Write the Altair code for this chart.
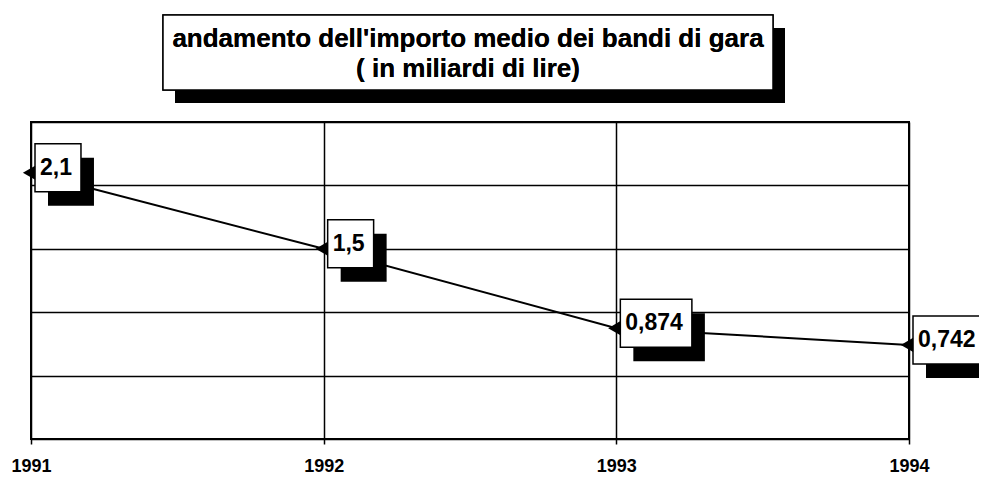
import altair as alt
import pandas as pd

years = [1991, 1992, 1993, 1994]
values = [2.1, 1.5, 0.874, 0.742]
labels = ["2,1", "1,5", "0,874", "0,742"]
title_lines = ["andamento dell'importo medio dei bandi di gara", "( in miliardi di lire)"]
y_grid = [0, 0.5, 1.0, 1.5, 2.0, 2.5]

df = pd.DataFrame({"year": years, "value": values, "label": labels})

W, H = 878, 317
FONT = "Liberation Sans"
LBL_FS = 23

xs = alt.Scale(domain=[1991, 1994], nice=False, zero=False)
ys = alt.Scale(domain=[0, 2.5], nice=False, zero=True)

x_axis = alt.Axis(values=years, format="d", title=None, labelFont=FONT, labelFontWeight="bold",
                  labelFontSize=18, labelColor="black", labelPadding=13, tickSize=5,
                  labelFlush=False, labelOverlap=False,
                  tickColor="black", tickWidth=1.5, domain=False, grid=True, gridColor="black",
                  gridWidth=1.5, gridOpacity=1)
y_axis = alt.Axis(values=y_grid, labels=False, ticks=False, domain=False, title=None, grid=True,
                  gridColor="black", gridWidth=1.5, gridOpacity=1)

base = alt.Chart(df)

line = base.mark_line(color="black", strokeWidth=2).encode(
    x=alt.X("year:Q", scale=xs, axis=x_axis),
    y=alt.Y("value:Q", scale=ys, axis=y_axis),
)

markers = base.mark_point(shape="triangle-left", filled=True, color="black", size=200, opacity=1,
                          xOffset=-2).encode(
    x=alt.X("year:Q", scale=xs), y=alt.Y("value:Q", scale=ys))

def text_width(s):
    w = 0
    for ch in s:
        w += 0.278 if ch in ",." else 0.556
    return w * LBL_FS

layers = [line]
for i, lab in enumerate(labels):
    w = text_width(lab) + 14
    sub = base.transform_filter(alt.datum.label == lab)
    enc = dict(x=alt.X("year:Q", scale=xs), x2="year:Q",
               y=alt.Y("value:Q", scale=ys), y2="value:Q")
    shadow = sub.mark_rect(color="black", xOffset=4 + 13, x2Offset=4 + 13 + w,
                           yOffset=-29 + 14, y2Offset=19 + 14).encode(**enc)
    box = sub.mark_rect(fill="white", stroke="black", strokeWidth=1.5, xOffset=4, x2Offset=4 + w,
                        yOffset=-29, y2Offset=19).encode(**enc)
    txt = sub.mark_text(align="left", baseline="middle", dx=9, dy=-5, font=FONT,
                        fontWeight="bold", fontSize=LBL_FS, color="black").encode(
        x=alt.X("year:Q", scale=xs), y=alt.Y("value:Q", scale=ys), text="label:N")
    layers += [shadow, box, txt]
layers.append(markers)

tdf = pd.DataFrame({"line": title_lines})
tbase = alt.Chart(tdf)
t_shadow = tbase.mark_rect(color="black").encode(
    x=alt.value(144), x2=alt.value(754), y=alt.value(-94), y2=alt.value(-19))
t_box = tbase.mark_rect(fill="white", stroke="black", strokeWidth=1.5).encode(
    x=alt.value(132), x2=alt.value(742), y=alt.value(-107), y2=alt.value(-32))
t1 = tbase.mark_text(font=FONT, fontWeight="bold", fontSize=26, color="black", baseline="middle").encode(
    x=alt.value(437), y=alt.value(-83), text=alt.value(title_lines[0]))
t2 = tbase.mark_text(font=FONT, fontWeight="bold", fontSize=26, color="black", baseline="middle").encode(
    x=alt.value(437), y=alt.value(-53), text=alt.value(title_lines[1]))

chart = alt.layer(t_shadow, t_box, t1, t2, *layers).properties(
    width=W, height=H,
    autosize=alt.AutoSizeParams(type="none"),
    padding={"left": 23, "top": 114, "right": 70, "bottom": 35},
    background="white",
).configure_view(stroke="black", strokeWidth=2)

chart.save("out.html", embed_options={"renderer": "svg", "actions": False})
